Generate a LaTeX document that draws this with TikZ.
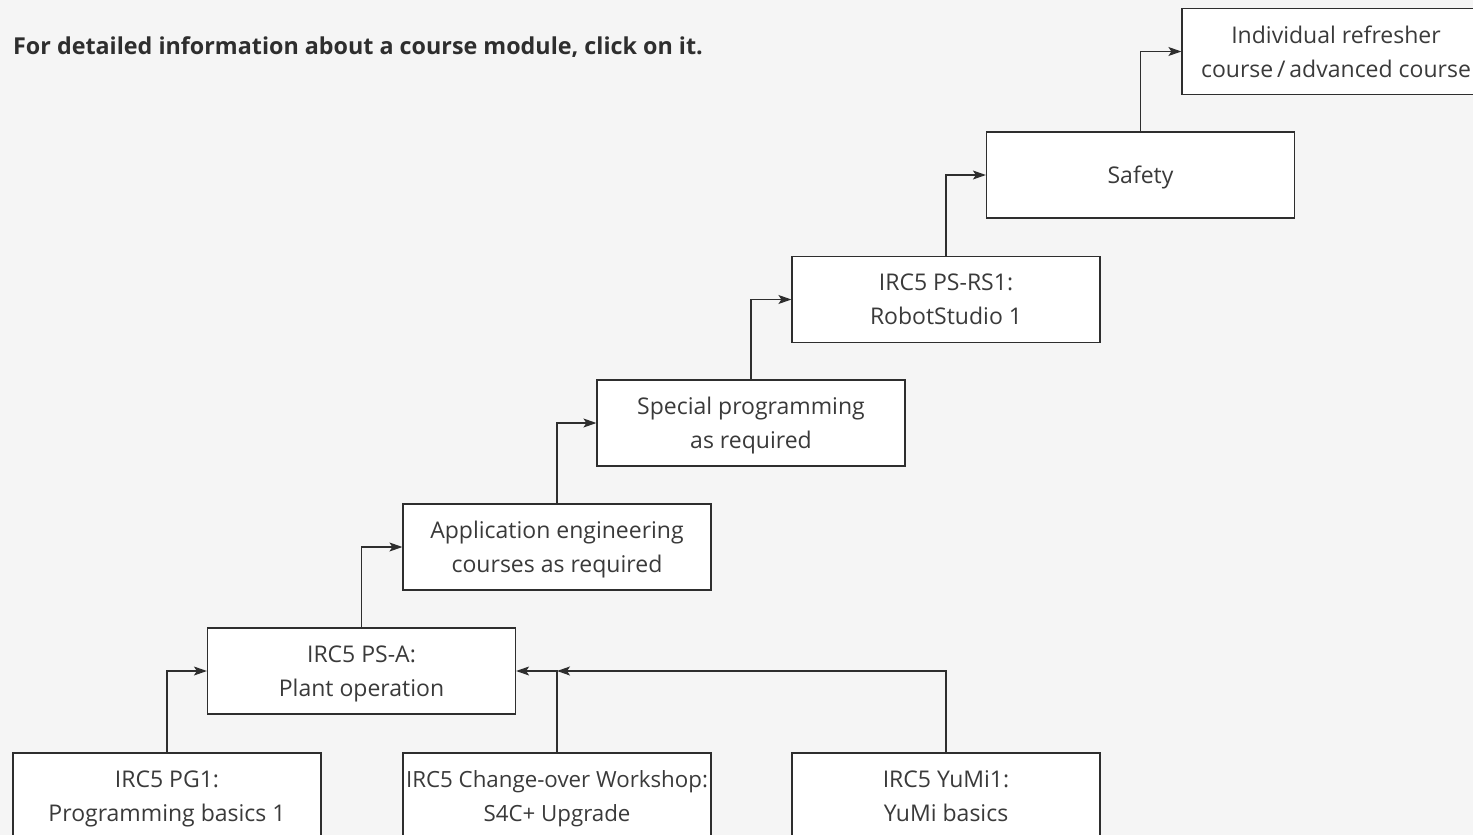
\documentclass[tikz,border=0pt]{standalone}
\usepackage{fontspec}
\setmainfont{Open Sans}
\usetikzlibrary{arrows.meta}
\definecolor{bg}{HTML}{F5F5F5}
\definecolor{ink}{HTML}{2E2E2E}
\definecolor{txt}{HTML}{3A3A3A}
\begin{document}
\begin{tikzpicture}[x=1pt,y=-1pt,
  box/.style={draw=ink,line width=1.2pt,fill=white,minimum width=308pt,minimum height=86pt,
    inner sep=0pt,align=center,text depth=0pt,font=\fontsize{23}{34}\selectfont,text=txt},
  arr/.style={draw=ink,line width=1.2pt,-{Stealth[length=13pt,width=9pt,inset=3pt]}}]
\fill[bg] (0,0) rectangle (1473,835);
\useasboundingbox (0,0) rectangle (1473,835);
\node[anchor=west,inner sep=0pt,font=\bfseries\fontsize{23.3}{26}\selectfont,text=ink] (title) at (13,47) {For detailed information about a course module, click on it.};
\node[box] (pg1) at (167,796) {IRC5 PG1:\\Programming basics 1};
\node[box,font=\fontsize{22.3}{34}\selectfont] (co) at (557,796) {IRC5 Change-over Workshop:\\S4C+ Upgrade};
\node[box] (yumi) at (946,796) {IRC5 YuMi1:\\YuMi basics};
\node[box] (psa) at (361.5,671) {IRC5 PS-A:\\Plant operation};
\node[box] (app) at (557,547) {Application engineering\\courses as required};
\node[box] (spec) at (751,423) {Special programming\\as required};
\node[box] (rs1) at (946,299.5) {IRC5 PS-RS1:\\RobotStudio 1};
\node[box] (saf) at (1140.5,175) {Safety};
\node[box] (ind) at (1336,51.5) {Individual refresher\\course\,/\,advanced course};
\coordinate (j) at (co.north |- psa.east);
\draw[arr] (pg1.north) |- (psa.west);
\draw[arr] (co.north) |- (psa.east);
\draw[arr] (yumi.north) |- (j);
\draw[arr] (psa.north) |- (app.west);
\draw[arr] (app.north) |- (spec.west);
\draw[arr] (spec.north) |- (rs1.west);
\draw[arr] (rs1.north) |- (saf.west);
\draw[arr] (saf.north) |- (ind.west);
\end{tikzpicture}
\end{document}
